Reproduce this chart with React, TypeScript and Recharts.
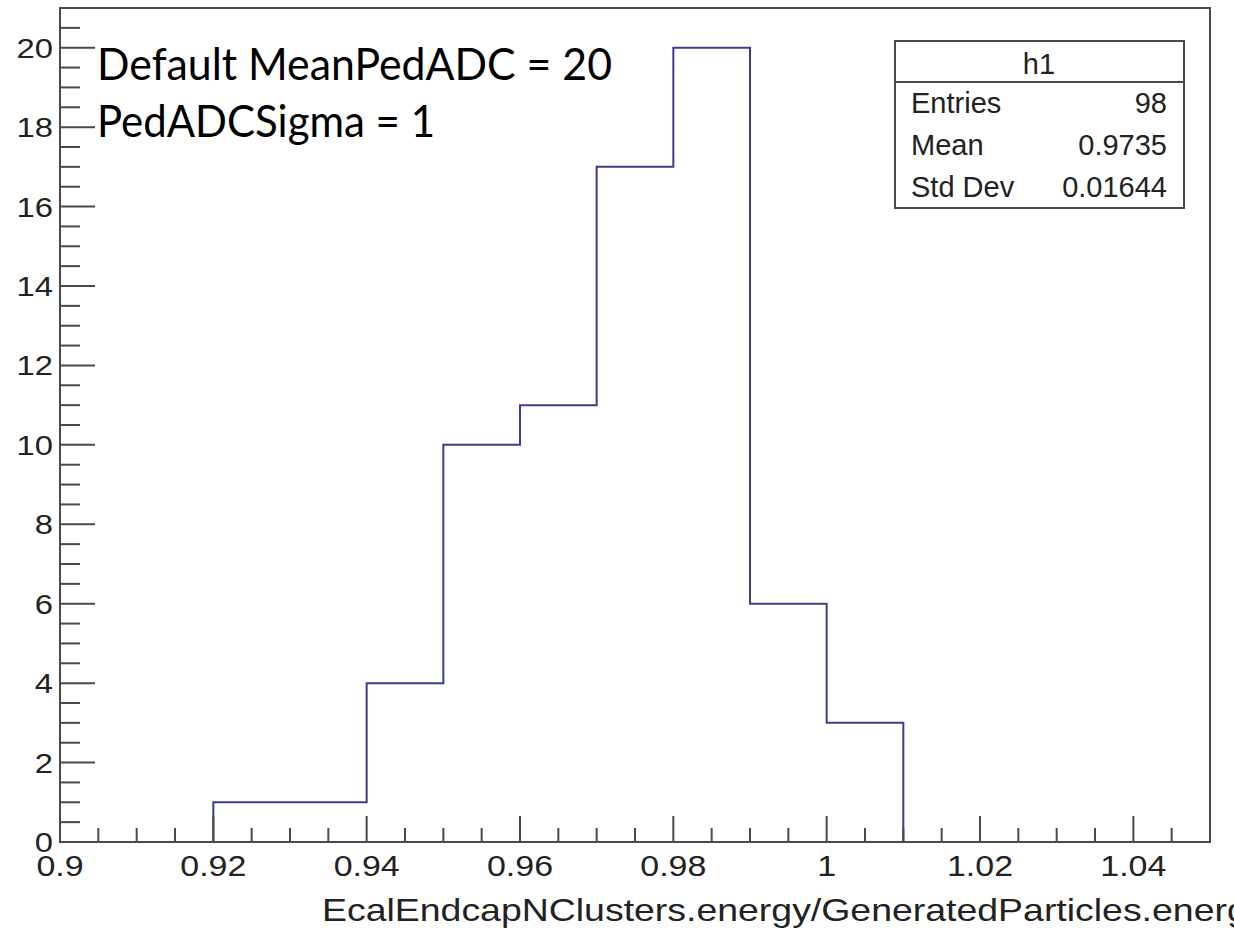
import React from "react";
import { ComposedChart, Line, XAxis, YAxis, ReferenceArea } from "recharts";

// histogram h1: bin edges and counts
const binEdges = [0.92, 0.93, 0.94, 0.95, 0.96, 0.97, 0.98, 0.99, 1.0, 1.01];
const binCounts = [1, 1, 4, 10, 11, 17, 20, 6, 3];

const xMajorTicks = [0.9, 0.92, 0.94, 0.96, 0.98, 1.0, 1.02, 1.04];
const yMajorTicks = [0, 2, 4, 6, 8, 10, 12, 14, 16, 18, 20];

const statsRows = [
  ["Entries", "98"],
  ["Mean", "0.9735"],
  ["Std Dev", "0.01644"],
];

const notes = ["Default MeanPedADC = 20", "PedADCSigma = 1"];
const xTitle = "EcalEndcapNClusters.energy/GeneratedParticles.energy";

// minor ticks: 4 subdivisions per major step
const xTicks: number[] = [];
for (let i = 0; i <= 30; i++) xTicks.push(+(0.9 + i * 0.005).toFixed(3));
const yTicks: number[] = [];
for (let i = 0; i <= 41; i++) yTicks.push(i * 0.5);

// outline of the histogram: up at the first edge, flat over each bin, down at the last
const outline: { x: number; y: number }[] = [{ x: binEdges[0], y: 0 }];
binCounts.forEach((c, i) => {
  outline.push({ x: binEdges[i], y: c });
  outline.push({ x: binEdges[i + 1], y: c });
});
outline.push({ x: binEdges[binEdges.length - 1], y: 0 });

const AXIS = "#4a4a4a";
const TXT = "#222";
const ROOT_FONT = "'Liberation Sans', Arial, sans-serif";

const isMajor = (v: number, list: number[]) => list.some((m) => Math.abs(m - v) < 1e-6);

const XTick = (props: any) => {
  const { x, y, payload } = props;
  const major = isMajor(payload.value, xMajorTicks);
  return (
    <g>
      <line x1={x} x2={x} y1={y} y2={y - (major ? 26 : 14)} stroke={AXIS} strokeWidth={2} />
      {major && (
        <text
          transform={`translate(${x},${y + 34}) scale(1.17,1)`}
          textAnchor="middle"
          fontFamily={ROOT_FONT}
          fontSize={29}
          fill={TXT}
        >
          {String(parseFloat(payload.value.toFixed(2)))}
        </text>
      )}
    </g>
  );
};

const YTick = (props: any) => {
  const { x, y, payload } = props;
  const major = isMajor(payload.value, yMajorTicks);
  return (
    <g>
      <line x1={x} x2={x + (major ? 35 : 20)} y1={y} y2={y} stroke={AXIS} strokeWidth={2} />
      {major && (
        <text
          transform={`translate(${x - 7},${y + 10}) scale(1.17,1)`}
          textAnchor="end"
          fontFamily={ROOT_FONT}
          fontSize={28}
          fill={TXT}
        >
          {payload.value}
        </text>
      )}
    </g>
  );
};

export default function App() {
  return (
    <div style={{ position: "absolute", left: 0, top: 0, width: 1234, height: 934, background: "#fff" }}>
      <ComposedChart width={1234} height={934} data={outline} margin={{ top: 8, right: 24, bottom: 0, left: 0 }}>
        <XAxis
          type="number"
          dataKey="x"
          domain={[0.9, 1.05]}
          ticks={xTicks}
          interval={0}
          tick={<XTick />}
          tickLine={false}
          tickSize={0}
          tickMargin={0}
          height={92}
          axisLine={{ stroke: AXIS, strokeWidth: 2 }}
          allowDataOverflow
        />
        <YAxis
          type="number"
          domain={[0, 21]}
          ticks={yTicks}
          interval={0}
          tick={<YTick />}
          tickLine={false}
          tickSize={0}
          tickMargin={0}
          width={60}
          axisLine={{ stroke: AXIS, strokeWidth: 2 }}
          allowDataOverflow
        />
        <ReferenceArea x1={0.9} x2={1.05} y1={0} y2={21} fill="none" stroke={AXIS} strokeWidth={2} ifOverflow="visible" />
        <Line
          type="linear"
          dataKey="y"
          stroke="#3d3d8f"
          strokeWidth={2}
          dot={false}
          activeDot={false}
          isAnimationActive={false}
        />
      </ComposedChart>

      <svg width={1234} height={934} style={{ position: "absolute", left: 0, top: 0, pointerEvents: "none" }}>
        {/* slide annotation */}
        <text x={97} y={80} fontFamily="Lato, 'Open Sans', sans-serif" fontSize={44} fill="#000" textLength={515} lengthAdjust="spacingAndGlyphs">
          {notes[0]}
        </text>
        <text x={97} y={137} fontFamily="Lato, 'Open Sans', sans-serif" fontSize={44} fill="#000" textLength={338} lengthAdjust="spacingAndGlyphs">
          {notes[1]}
        </text>

        {/* stats box */}
        <rect x={895} y={41} width={289} height={167} fill="#fff" stroke={AXIS} strokeWidth={2} />
        <line x1={895} x2={1184} y1={82} y2={82} stroke={AXIS} strokeWidth={2} />
        <text x={1039} y={74} textAnchor="middle" fontFamily={ROOT_FONT} fontSize={29} fill={TXT}>
          h1
        </text>
        {statsRows.map(([k, v], i) => (
          <g key={k}>
            <text x={911} y={113 + i * 42} fontFamily={ROOT_FONT} fontSize={29} fill={TXT}>
              {k}
            </text>
            <text x={1167} y={113 + i * 42} textAnchor="end" fontFamily={ROOT_FONT} fontSize={29} fill={TXT}>
              {v}
            </text>
          </g>
        ))}

        {/* x axis title, runs past the right edge as in the source */}
        <text transform="translate(322,921) scale(1.17,1)" fontFamily={ROOT_FONT} fontSize={32} fill={TXT}>
          {xTitle}
        </text>
      </svg>
    </div>
  );
}
